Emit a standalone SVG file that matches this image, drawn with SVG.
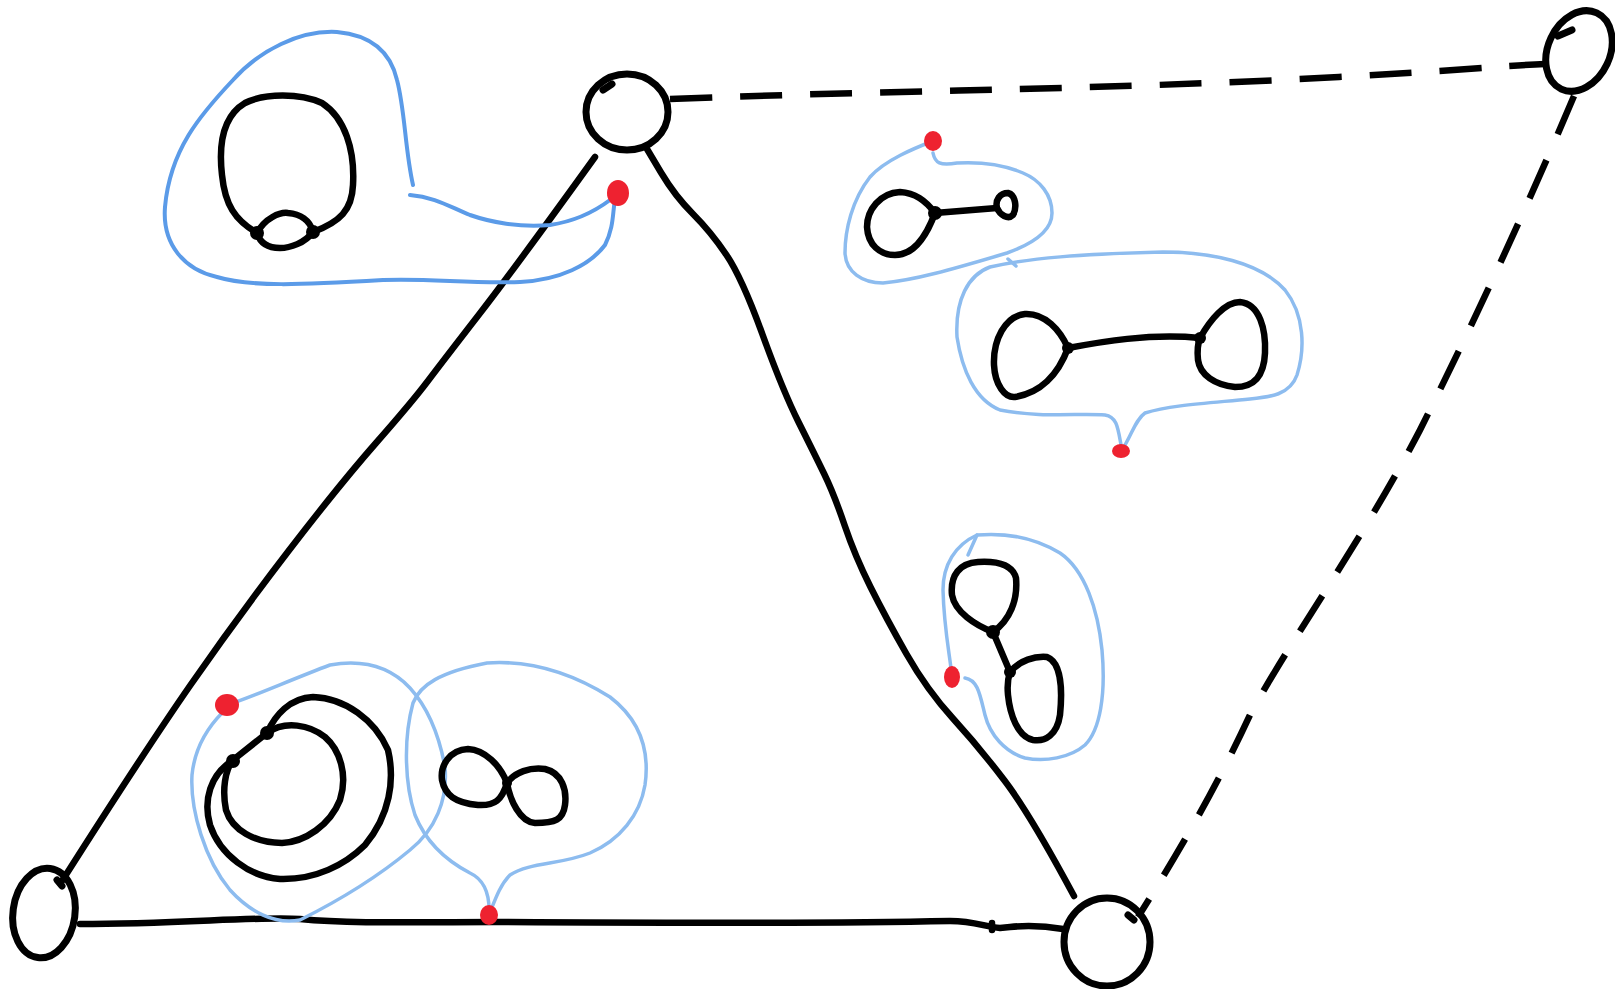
<svg xmlns="http://www.w3.org/2000/svg" width="1615" height="989" viewBox="0 0 1615 989">
<style>
.k{fill:none;stroke:#000;stroke-width:6.5;stroke-linecap:round;stroke-linejoin:round}
.kt{fill:none;stroke:#000;stroke-width:7;stroke-linecap:round;stroke-linejoin:round}
.d{fill:none;stroke:#000;stroke-width:6.5;stroke-linecap:butt;stroke-dasharray:42 28}
.b1{fill:none;stroke:#5b9be8;stroke-width:4;stroke-linecap:round;stroke-linejoin:round}
.b2{fill:none;stroke:#8dbcef;stroke-width:3.5;stroke-linecap:round;stroke-linejoin:round}
.r{fill:#ee2230}
.n{fill:#000}
</style>
<rect width="1615" height="989" fill="#fff"/>
<g id="connectors">
<path class="k" d="M595,157 Q515,268 479,314.5 Q443,361 427.5,381.5 Q412,402 376,443 Q340,484 288.5,551 Q237,618 190.5,685 Q144,752 62,881"/>
<path class="k" d="M647,149 L661,172.5 Q675,196 693,214 Q711,232 726.5,255 Q742,278 762.5,334.5 Q783,391 798.5,422 Q814,453 824,473.5 Q834,494 844.5,525 Q855,556 870.5,587 Q886,618 906.5,654 Q927,690 953,718.5 Q979,747 1004.5,780.5 Q1030,814 1074,896"/>
<path class="k" d="M80,924 C180,924 260,916 300,919 C350,924 420,922 494,922 C650,923 800,924 950,921 C975,921 985,927 1000,928 L1010,927 C1030,925 1045,926 1063,929"/>
<path class="k" d="M992,923 L992,930"/>
<path class="d" d="M670,99 C900,90 1100,90 1339,77 C1450,71 1500,66 1545,64"/>
<path class="d" d="M1574,96 C1530,200 1480,310 1420,430 C1360,545 1290,640 1250,715 C1215,790 1180,850 1138,917"/>
</g>
<g id="node-top">
<ellipse class="kt" cx="627" cy="112" rx="41" ry="38"/>
<path class="kt" d="M603,90 L612,84"/>
</g>
<g id="node-topright">
<ellipse class="kt" cx="1579" cy="51" rx="31" ry="42" transform="rotate(25 1579 51)"/>
<path class="kt" d="M1558,36 L1572,30"/>
</g>
<g id="node-bottomleft">
<ellipse class="kt" cx="44" cy="913" rx="31" ry="45" transform="rotate(8 44 913)"/>
<path class="kt" d="M57,880 L62,886"/>
</g>
<g id="node-bottomright">
<ellipse class="kt" cx="1107" cy="942" rx="43" ry="44"/>
<path class="kt" d="M1128,915 L1134,920"/>
</g>
<g id="blob-topleft">
<path class="b1" d="M413,185 C405,150 405,110 397,80 C390,50 370,35 337,32 C300,30 260,50 233,80 C200,115 170,150 165,207 C162,245 185,270 217,277 C250,287 300,285 383,280 C430,278 470,284 520,282 C560,280 590,265 605,245 C615,225 612,210 616,195"/>
<path class="b1" d="M610,200 C590,215 570,222 550,225 C520,228 490,222 470,215 C450,207 435,197 410,195"/>
<path class="k" d="M257,233 C235,220 225,205 222,175 C218,140 225,115 245,103 C265,93 300,93 322,103 C345,118 355,150 353,185 C352,210 340,222 313,232"/>
<path class="k" d="M257,233 C265,218 280,212 288,213 C300,214 310,220 313,232 C305,243 290,248 280,248 C268,248 260,243 257,233"/>
<circle class="n" cx="257" cy="233" r="7"/>
<circle class="n" cx="313" cy="232" r="7"/>
<ellipse class="r" cx="618" cy="193" rx="11" ry="13"/>
</g>
<g id="blob-right1">
<path class="b2" d="M933,141 C915,148 885,160 870,177 C852,200 845,230 845,253 C846,272 862,283 883,283 C915,280 950,270 1007,253 C1035,243 1052,230 1052,213 C1052,195 1040,180 1023,173 C1000,163 975,162 957,163 C940,166 935,163 933,153"/>
<path class="k" d="M935,213 C925,200 915,193 900,192 C880,193 867,210 867,227 C868,245 880,255 895,255 C912,255 925,240 935,213 Z"/>
<path class="k" d="M935,213 L997,208"/>
<path class="k" d="M997,208 C995,200 1000,193 1008,193 C1016,195 1017,208 1013,215 C1008,220 1000,215 997,208 Z"/>
<circle class="n" cx="935" cy="213" r="7"/>
<ellipse class="r" cx="933" cy="141" rx="9" ry="10"/>
</g>
<g id="blob-right2">
<path class="b2" d="M1122,450 C1118,430 1118,417 1105,415 C1080,413 1040,418 1000,410 C975,400 962,370 957,337 C955,300 968,275 990,267 C1030,258 1080,254 1163,252 C1210,252 1260,262 1285,290 C1305,315 1305,350 1297,375 C1290,395 1270,397 1250,399 C1210,403 1170,405 1145,413 C1135,420 1132,435 1122,450"/>
<path class="b2" d="M1008,259 L1016,266"/>
<path class="k" d="M1068,348 C1060,330 1045,313 1025,314 C1005,316 993,340 994,365 C995,385 1005,398 1015,397 C1040,393 1058,375 1068,348 Z"/>
<path class="k" d="M1068,348 C1100,342 1150,333 1200,338"/>
<path class="k" d="M1200,338 C1210,320 1225,302 1240,302 C1260,304 1266,330 1265,353 C1264,375 1255,387 1235,387 C1215,385 1200,375 1198,360 C1197,350 1198,343 1200,338 Z"/>
<circle class="n" cx="1068" cy="348" r="6"/>
<circle class="n" cx="1200" cy="338" r="6"/>
<ellipse class="r" cx="1121" cy="451" rx="9" ry="7"/>
</g>
<g id="blob-right3">
<path class="b2" d="M952,677 C950,655 944,630 943,590 C943,565 955,545 977,535 C1000,533 1030,535 1060,553 C1085,570 1098,610 1102,650 C1106,695 1100,730 1085,745 C1070,758 1045,762 1025,758 C1005,752 990,735 985,715 C980,695 978,680 965,678"/>
<path class="b2" d="M968,555 L977,535"/>
<path class="k" d="M993,632 C975,625 955,612 952,595 C950,575 960,563 978,562 C995,561 1012,563 1016,578 C1018,600 1010,620 993,632 Z"/>
<path class="k" d="M993,632 L1010,672"/>
<path class="k" d="M1010,672 C1020,660 1035,656 1047,657 C1060,662 1063,685 1060,715 C1057,735 1045,742 1033,740 C1018,737 1010,715 1008,695 C1007,685 1008,678 1010,672 Z"/>
<circle class="n" cx="993" cy="632" r="7"/>
<circle class="n" cx="1010" cy="672" r="6"/>
<ellipse class="r" cx="952" cy="677" rx="8" ry="11"/>
</g>
<g id="blob-bottom">
<path class="b2" d="M227,705 C250,698 290,680 330,665 C370,658 395,672 410,688 C430,710 440,740 445,767 C448,800 435,830 410,850 C380,875 340,900 300,920 C275,925 250,912 230,890 C205,860 190,810 192,775 C195,745 210,725 223,712"/>
<path class="b2" d="M489,915 C490,895 485,880 470,873 C445,860 425,840 415,815 C405,785 403,740 413,703 C420,685 440,672 487,663 C530,660 570,672 610,697 C640,720 650,750 645,785 C640,815 620,840 590,853 C560,865 530,862 510,875 C500,885 495,900 489,915"/>
<path class="k" d="M267,733 C275,715 290,698 313,697 C345,698 375,720 388,750 C395,780 390,815 365,845 C345,865 315,880 280,879 C250,877 220,855 210,825 C203,800 210,775 233,760"/>
<path class="k" d="M233,760 C225,770 222,790 226,810 C232,830 255,843 282,843 C305,842 330,825 340,800 C348,775 340,750 325,737 C310,725 285,720 267,733"/>
<path class="k" d="M233,760 L267,733"/>
<circle class="n" cx="267" cy="733" r="7"/>
<circle class="n" cx="233" cy="761" r="7"/>
<path class="k" d="M507,783 C500,765 485,750 468,749 C450,750 440,765 442,780 C445,795 455,803 478,805 C495,806 502,800 507,783 Z"/>
<path class="k" d="M507,783 C515,772 530,767 545,769 C562,773 567,790 565,805 C563,820 555,823 535,823 C520,822 510,800 507,783 Z"/>
<circle class="n" cx="507" cy="783" r="5"/>
<ellipse class="r" cx="227" cy="705" rx="12" ry="11"/>
<ellipse class="r" cx="489" cy="915" rx="9" ry="10"/>
</g>
</svg>
